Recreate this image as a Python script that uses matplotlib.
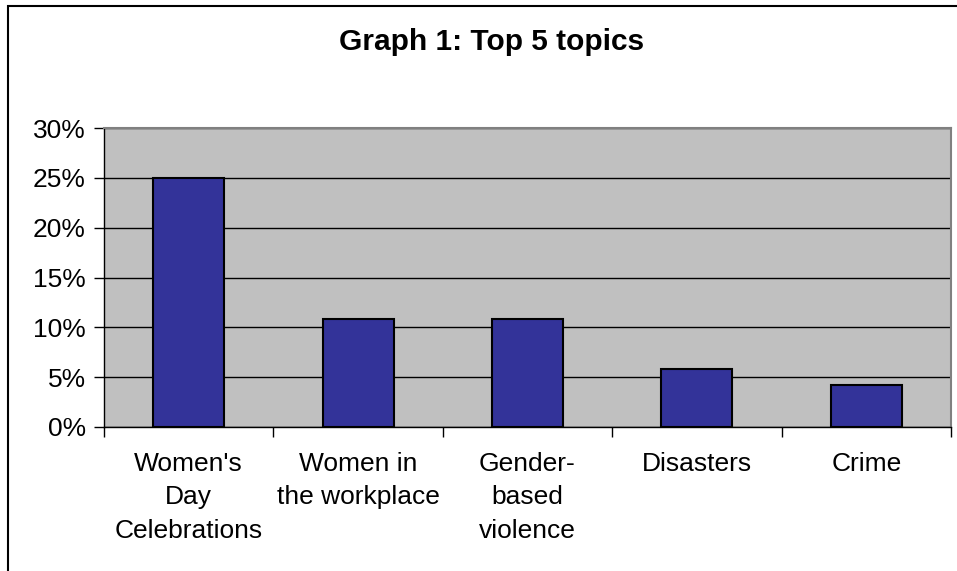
import matplotlib.pyplot as plt
from matplotlib.patches import Rectangle
from matplotlib.ticker import FixedLocator, PercentFormatter

plt.rcParams['font.family'] = ['Liberation Sans', 'DejaVu Sans']

topics = ["Women's\nDay\nCelebrations", "Women in\nthe workplace",
          "Gender-\nbased\nviolence", "Disasters", "Crime"]
shares = [25, 10.8, 10.8, 5.8, 4.2]

fig = plt.figure(figsize=(9.57, 5.71), dpi=100)
ax = fig.add_axes([0.1087, 0.2522, 0.885, 0.5236])

# chart frame (runs past the right and bottom edges)
fig.patches.append(Rectangle((8 / 957, -0.05), 1.2, 1 - 5.5 / 571 + 0.05,
                             transform=fig.transFigure, fill=False,
                             edgecolor='black', linewidth=1.5))

ax.set_facecolor('#C0C0C0')
x = list(range(len(topics)))
ax.bar(x, shares, width=0.42, color='#333399', edgecolor='black',
       linewidth=1.5, zorder=3)

ax.set_xlim(-0.5, len(topics) - 0.5)
ax.set_ylim(0, 30)
ax.set_yticks(range(0, 31, 5))
ax.yaxis.set_major_formatter(PercentFormatter(decimals=0))
ax.yaxis.grid(True, color='black', linewidth=1, zorder=1)
ax.set_axisbelow(True)

ax.set_xticks(x)
ax.set_xticklabels(topics, fontsize=19, linespacing=1.5)
ax.xaxis.set_minor_locator(FixedLocator([i - 0.5 for i in range(len(topics) + 1)]))
ax.tick_params(axis='x', which='major', length=0, pad=18)
ax.tick_params(axis='x', which='minor', length=7, width=1, direction='out')
ax.tick_params(axis='y', length=7, width=1, direction='out', pad=6, labelsize=19)

for side in ('top', 'right'):
    ax.spines[side].set_color('#808080')
    ax.spines[side].set_linewidth(1.5)
for side in ('left', 'bottom'):
    ax.spines[side].set_color('black')
    ax.spines[side].set_linewidth(1)

fig.text(492 / 957, 1 - 42 / 571, 'Graph 1: Top 5 topics', fontsize=21.5,
         fontweight='bold', ha='center', va='center')

fig.savefig('out.png', dpi=100)
